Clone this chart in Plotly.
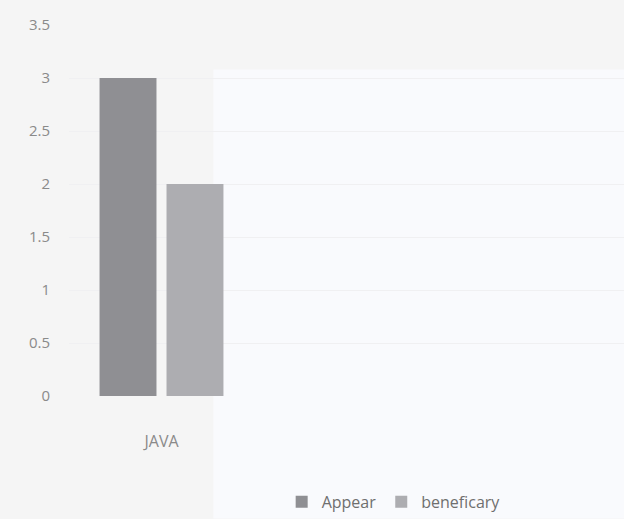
import plotly.graph_objects as go

categories = ["JAVA"]
appear = [3]
beneficary = [2]
series_names = ["Appear", "beneficary"]
y_ticks = [0, 0.5, 1, 1.5, 2, 2.5, 3, 3.5]
y_tick_labels = ["0", "0.5", "1", "1.5", "2", "2.5", "3", "3.5"]

fig = go.Figure()
fig.add_trace(go.Bar(x=categories, y=appear, name=series_names[0],
                     marker=dict(color="#8f8f93", line=dict(width=0))))
fig.add_trace(go.Bar(x=categories, y=beneficary, name=series_names[1],
                     marker=dict(color="#adadb1", line=dict(width=0))))

fig.update_layout(
    width=624, height=519,
    margin=dict(l=69, r=0, t=25, b=119),
    paper_bgcolor="#f5f5f5",
    plot_bgcolor="rgba(0,0,0,0)",
    barmode="group",
    bargap=0.276,
    bargroupgap=0.15,
    font=dict(family="Open Sans, Liberation Sans, sans-serif", size=15, color="#8a8a8a"),
    showlegend=True,
    legend=dict(orientation="h", x=0.585, xanchor="center", y=-0.285, yanchor="middle",
                font=dict(size=16, color="#6f6f6f"), bgcolor="rgba(0,0,0,0)",
                itemwidth=30, traceorder="normal"),
    shapes=[dict(type="rect", xref="paper", yref="paper", x0=0.26, x1=1.01,
                 y0=-0.33, y1=0.88, fillcolor="#f9fafd", line=dict(width=0), layer="below")],
)
fig.update_xaxes(range=[-0.5, 2.5], showgrid=False, showline=False, ticks="",
                 ticklabelstandoff=34, tickfont=dict(size=16, color="#8a8a8a"))
fig.update_yaxes(range=[0, 3.5], tickvals=y_ticks, ticktext=y_tick_labels,
                 showgrid=True, gridcolor="#f0f0f2", zeroline=False, showline=False,
                 ticks="", ticklabelstandoff=18, tickfont=dict(size=15, color="#8a8a8a"))

fig.write_html("out.html", config={"displayModeBar": False},
               post_script="document.body.style.margin='0';document.body.style.padding='0';document.body.style.overflow='hidden';")
